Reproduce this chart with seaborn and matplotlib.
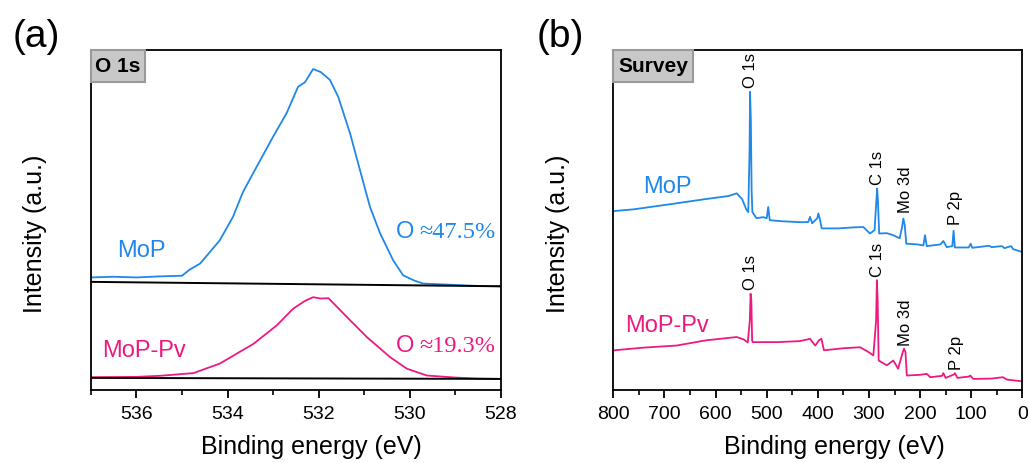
import numpy as np
import pandas as pd
import matplotlib
matplotlib.use("Agg")
import matplotlib.pyplot as plt
from matplotlib.patches import Rectangle
from matplotlib.ticker import MultipleLocator
import seaborn as sns

# ---------------- data ----------------
# Panel (a): O 1s high-resolution spectra (binding energy, intensity a.u.)
o1s_mop_e = [537, 536.5, 536, 535.5, 535, 534.83, 534.6, 534.17, 533.88, 533.66, 533.36,
             533.0, 532.7, 532.45, 532.3, 532.12, 531.95, 531.75, 531.57, 531.31, 531.09, 530.87,
             530.65, 530.36, 530.14, 529.9, 529.7, 529, 528.5, 528]
o1s_mop_i = [33.2, 33.4, 33.2, 33.5, 33.7, 35.5, 37.3, 44.1, 51.0, 58.3, 65.7,
             74.5, 81.5, 89.2, 90.5, 94.4, 93.5, 91.2, 86.3, 75.6, 64.7, 53.9,
             46.2, 38.2, 33.8, 32.3, 31.4, 31.0, 30.7, 30.6]
o1s_pv_e = [537, 536, 535.5, 534.75, 534.17, 533.43, 532.92, 532.56, 532.3, 532.12, 531.95,
            531.78, 531.38, 530.94, 530.43, 530.06, 529.62, 529, 528.5, 528]
o1s_pv_i = [3.9, 4.0, 4.3, 5.1, 7.9, 13.7, 19.1, 24.0, 26.3, 27.4, 27.0,
            27.1, 21.6, 15.7, 9.8, 6.4, 4.4, 3.8, 3.5, 3.4]
bg_e = [537, 528]
bg_mop_i = [31.9, 30.6]
bg_pv_i = [3.7, 3.4]

# Panel (b): survey spectra
sv_mop_e = [798.6, 760, 689, 620, 575, 558.7, 548, 540, 536, 533.5, 532.5, 531, 529.5, 528,
            520, 506.6, 500, 497, 494, 470, 430, 418.6, 415.3, 411, 401, 399, 396, 392.4,
            360, 330, 311, 298, 289, 285.5, 284, 282.5, 280, 265, 252.4, 240, 235, 232.7,
            230, 227, 205, 193.6, 190.4, 187, 160, 154.5, 148, 137, 134.5, 132, 105, 101,
            98, 65, 60, 40, 35, 22, 18, 1]
sv_mop_i = [52.7, 53.2, 54.7, 56.2, 57.1, 57.9, 56.2, 53.2, 52.4, 70.6, 87.7, 79.4, 58.8, 52.4,
            50.6, 50.9, 50.6, 53.9, 50.0, 49.7, 49.4, 49.5, 51.0, 49.1, 50.6, 52.0, 50.3, 47.6,
            47.6, 47.9, 48.0, 46.1, 47.1, 55.9, 59.3, 55.9, 46.1, 46.2, 45.6, 44.7, 48.2, 50.5,
            48.5, 43.1, 42.9, 42.6, 45.6, 42.4, 42.9, 43.9, 42.1, 42.4, 46.9, 42.0, 42.0, 43.1,
            41.9, 42.5, 42.1, 42.4, 41.8, 42.4, 41.5, 40.7]
sv_pv_e = [798.6, 740, 676, 620, 558.7, 545, 537, 533, 531.5, 530, 528.5, 527, 480, 450, 435,
           420, 415.3, 410, 405, 398, 393, 388, 350, 317.5, 301, 291.4, 286, 284.5, 283, 281,
           265, 252.4, 243, 234, 231.4, 228.5, 226, 200, 187, 180, 157, 154.5, 150, 134,
           131.7, 127, 104, 102, 96, 60, 38, 30, 1]
sv_pv_i = [11.8, 12.6, 13.2, 14.7, 15.7, 15.0, 14.1, 20.6, 28.4, 26.5, 14.7, 14.2, 14.2, 14.4, 14.5,
           15.0, 15.2, 14.1, 13.2, 14.7, 15.2, 11.8, 12.4, 12.7, 11.3, 10.3, 20.6, 32.4, 26.5, 8.8,
           7.4, 8.8, 6.4, 11.2, 12.3, 11.2, 4.4, 4.6, 4.9, 3.9, 4.3, 5.1, 3.7, 4.7,
           5.1, 3.7, 4.1, 4.4, 3.4, 3.5, 3.9, 3.2, 2.7]

a_ticks = [536, 534, 532, 530, 528]
b_ticks = [800, 700, 600, 500, 400, 300, 200, 100, 0]

peak_labels = ["O 1s", "C 1s", "Mo 3d", "P 2p"]
peak_x_mop = [531, 283.6, 229.5, 131.7]
peak_y_mop = [88.8, 60.3, 52.1, 48.5]
peak_x_pv = [531, 283.6, 229.5, 128.4]
peak_y_pv = [29.4, 33.2, 13.2, 5.9]

BLUE = "#1F88E8"
PINK = "#EC1A80"

# ---------------- style ----------------
sns.set_style("ticks")
plt.rcParams["font.family"] = ["Liberation Sans", "DejaVu Sans"]
plt.rcParams["axes.linewidth"] = 1.3
plt.rcParams["text.color"] = "black"
plt.rcParams["axes.labelcolor"] = "black"
plt.rcParams["xtick.color"] = "black"
plt.rcParams["ytick.color"] = "black"
plt.rcParams["axes.edgecolor"] = "black"

fig = plt.figure(figsize=(10.28, 4.63), dpi=100)
axa = fig.add_axes([0.0885, 0.1566, 0.3985, 0.7355])
axb = fig.add_axes([0.5966, 0.1566, 0.3979, 0.7355])

df_a1 = pd.DataFrame({"E": o1s_mop_e, "I": o1s_mop_i})
df_a2 = pd.DataFrame({"E": o1s_pv_e, "I": o1s_pv_i})
sns.lineplot(data=df_a1, x="E", y="I", ax=axa, color=BLUE, lw=1.3, sort=False)
sns.lineplot(data=df_a2, x="E", y="I", ax=axa, color=PINK, lw=1.3, sort=False)
sns.lineplot(x=bg_e, y=bg_mop_i, ax=axa, color="black", lw=1.4)
sns.lineplot(x=bg_e, y=bg_pv_i, ax=axa, color="black", lw=1.4)

df_b1 = pd.DataFrame({"E": sv_mop_e, "I": sv_mop_i})
df_b2 = pd.DataFrame({"E": sv_pv_e, "I": sv_pv_i})
sns.lineplot(data=df_b1, x="E", y="I", ax=axb, color=BLUE, lw=1.3, sort=False)
sns.lineplot(data=df_b2, x="E", y="I", ax=axb, color=PINK, lw=1.3, sort=False)

for ax in (axa, axb):
    ax.set_ylim(0, 100)
    ax.set_yticks([])
    for s in ax.spines.values():
        s.set_visible(True)
        s.set_color("black")
        s.set_linewidth(1.3)
    ax.tick_params(axis="x", which="major", direction="out", length=6, width=1.3,
                   labelsize=14, pad=5, colors="black")
    ax.tick_params(axis="x", which="minor", direction="out", length=3.5, width=1.2,
                   colors="black")
    ax.set_xlabel("Binding energy (eV)", fontsize=18, color="black")
    ax.set_ylabel("Intensity (a.u.)", fontsize=18, color="black")

axa.set_xlim(537, 528)
axa.set_xticks(a_ticks)
axa.xaxis.set_minor_locator(MultipleLocator(1))
axb.set_xlim(800, 0)
axb.set_xticks(b_ticks)
axb.xaxis.set_minor_locator(MultipleLocator(50))

axa.xaxis.set_label_coords(0.537, -0.13)
axb.xaxis.set_label_coords(0.54, -0.13)
axa.yaxis.set_label_coords(-0.107, 0.46)
axb.yaxis.set_label_coords(-0.106, 0.46)

# title boxes
for ax, txt, w in ((axa, "O 1s", 0.132), (axb, "Survey", 0.196)):
    ax.add_patch(Rectangle((0, 1 - 0.095), w, 0.095, transform=ax.transAxes,
                           facecolor="#c8c8c8", edgecolor="#9a9a9a", lw=1.5, zorder=5,
                           clip_on=False))
    ax.text(w / 2, 1 - 0.0475, txt, transform=ax.transAxes, ha="center", va="center",
            fontsize=15, fontweight="bold", zorder=6, color="black")

# panel (a) labels
axa.text(536.43, 39.1, "MoP", color=BLUE, fontsize=17, ha="left", va="baseline")
axa.text(536.76, 9.7, "MoP-Pv", color=PINK, fontsize=17, ha="left", va="baseline")
axa.text(529.9, 44.7, "O", color=BLUE, fontsize=17, ha="right", va="baseline")
axa.text(528.12, 44.7, "\u224847.5%", color=BLUE, fontsize=17.5, ha="right", va="baseline",
         family=["Liberation Serif", "DejaVu Serif"])
axa.text(529.9, 11.2, "O", color=PINK, fontsize=17, ha="right", va="baseline")
axa.text(528.12, 11.2, "\u224819.3%", color=PINK, fontsize=17.5, ha="right", va="baseline",
         family=["Liberation Serif", "DejaVu Serif"])

# panel (b) labels
axb.text(742, 57.9, "MoP", color=BLUE, fontsize=17, ha="left", va="baseline")
axb.text(777, 17.1, "MoP-Pv", color=PINK, fontsize=17, ha="left", va="baseline")
for lab, x1, y1, x2, y2 in zip(peak_labels, peak_x_mop, peak_y_mop, peak_x_pv, peak_y_pv):
    axb.text(x1, y1, lab, rotation=90, ha="center", va="bottom", fontsize=12, color="black")
    axb.text(x2, y2, lab, rotation=90, ha="center", va="bottom", fontsize=12, color="black")

fig.text(36 / 1028, 1 - 37 / 463, "(a)", ha="center", va="center", fontsize=28, color="black")
fig.text(560 / 1028, 1 - 37 / 463, "(b)", ha="center", va="center", fontsize=28, color="black")

fig.savefig("out.png", dpi=100)
